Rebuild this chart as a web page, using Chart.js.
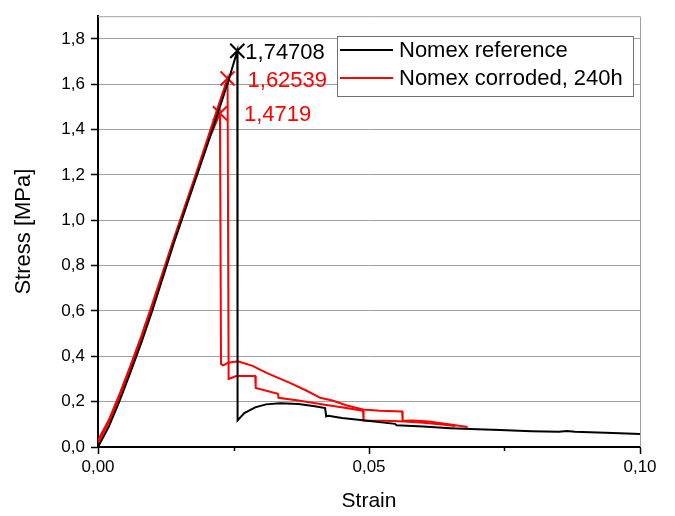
<!DOCTYPE html>
<html>
<head>
<meta charset="utf-8">
<script src="https://cdn.jsdelivr.net/npm/chart.js@4.4.0/dist/chart.umd.min.js"></script>
<style>
  html, body { margin: 0; padding: 0; background: #fff; }
  #wrap { width: 675px; height: 516px; }
</style>
</head>
<body>
<div id="wrap"><canvas id="stress-strain"></canvas></div>
<script>
var FONT = "'Liberation Sans', Arial, sans-serif";

// Nomex reference specimen
var refStrain = [0, 0.002, 0.004, 0.006, 0.008, 0.010, 0.012, 0.014, 0.016, 0.018, 0.020, 0.022, 0.024, 0.0257,
    0.02575, 0.027, 0.029, 0.031, 0.0336, 0.037, 0.040, 0.0419, 0.0421, 0.0425, 0.045, 0.0493, 0.0548, 0.0551,
    0.060, 0.065, 0.070, 0.0742, 0.080, 0.085, 0.0865, 0.088, 0.095, 0.100];
var refStress = [0, 0.09, 0.205, 0.33, 0.46, 0.6, 0.75, 0.9, 1.04, 1.18, 1.32, 1.465, 1.61, 1.74708,
    0.117, 0.15, 0.175, 0.188, 0.193, 0.19, 0.18, 0.172, 0.135, 0.138, 0.128, 0.117, 0.102, 0.096,
    0.09, 0.083, 0.078, 0.075, 0.07, 0.067, 0.07, 0.067, 0.062, 0.057];

// corroded specimen, lower peak
var corrAStrain = [0, 0.002, 0.004, 0.006, 0.008, 0.010, 0.012, 0.014, 0.016, 0.018, 0.020, 0.0225,
    0.0227, 0.0231, 0.0240, 0.0258, 0.0285, 0.0312, 0.0354, 0.0385, 0.0410, 0.0434, 0.0459, 0.0489,
    0.0520, 0.0561, 0.0562, 0.058, 0.061, 0.064, 0.0682];
var corrAStress = [0.02, 0.11, 0.225, 0.35, 0.48, 0.62, 0.765, 0.91, 1.05, 1.19, 1.33, 1.4719,
    0.365, 0.36, 0.372, 0.378, 0.358, 0.326, 0.283, 0.248, 0.217, 0.204, 0.183, 0.165,
    0.16, 0.157, 0.116, 0.117, 0.112, 0.103, 0.088];

// corroded specimen, higher peak
var corrBStrain = [0, 0.002, 0.004, 0.006, 0.008, 0.010, 0.012, 0.014, 0.016, 0.018, 0.020, 0.022, 0.0239,
    0.0241, 0.0255, 0.0290, 0.0291, 0.0332, 0.0333, 0.0373, 0.0415, 0.0452, 0.0489, 0.0490, 0.053,
    0.0565, 0.060, 0.063, 0.0659];
var corrBStress = [0.03, 0.12, 0.235, 0.36, 0.49, 0.63, 0.775, 0.92, 1.06, 1.2, 1.345, 1.49, 1.62539,
    0.30, 0.313, 0.313, 0.26, 0.235, 0.217, 0.204, 0.187, 0.174, 0.16, 0.117, 0.116,
    0.112, 0.107, 0.100, 0.093];

// ultimate stress points (ref, corroded B, corroded A)
var peakStrain = [0.0257, 0.0239, 0.0225];
var peakStress = [1.74708, 1.62539, 1.4719];
var peakColors = ['#000000', '#ff0000', '#ff0000'];
var peakLabelDx = [8, 20, 24];

var seriesNames = ['Nomex reference', 'Nomex corroded, 240h'];
var seriesColors = ['#000000', '#ff0000'];

function toPoints(xs, ys) {
    return xs.map(function (x, i) { return {x: x, y: ys[i]}; });
}

function isMajor(v, step) {
    return Math.abs(v / step - Math.round(v / step)) < 1e-6;
}

function curve(label, xs, ys, color) {
    return {
        label: label,
        data: toPoints(xs, ys),
        showLine: true,
        borderColor: color,
        borderWidth: 2,
        pointRadius: 0,
        tension: 0,
        fill: false
    };
}

// short ticks at the minor steps, plot frame, value labels and boxed legend
var extras = {
    id: 'extras',
    beforeDatasetsDraw: function (chart) {
        var ctx = chart.ctx, a = chart.chartArea;
        ctx.save();
        ctx.strokeStyle = '#a0a0a0';
        ctx.lineWidth = 1;
        ctx.beginPath();
        ctx.moveTo(a.left, a.top + 0.5);
        ctx.lineTo(a.right + 0.5, a.top + 0.5);
        ctx.lineTo(a.right + 0.5, a.bottom);
        ctx.stroke();
        ctx.restore();
    },
    afterDraw: function (chart) {
        var ctx = chart.ctx, a = chart.chartArea;
        var xs = chart.scales.x, ys = chart.scales.y;
        ctx.save();
        ctx.strokeStyle = '#000';
        ctx.lineWidth = 1.5;
        ctx.beginPath();
        ys.ticks.forEach(function (t) {
            if (!isMajor(t.value, 0.2)) {
                var y = Math.round(ys.getPixelForValue(t.value)) + 0.5;
                ctx.moveTo(a.left - 4, y);
                ctx.lineTo(a.left, y);
            }
        });
        xs.ticks.forEach(function (t) {
            if (!isMajor(t.value, 0.05)) {
                var x = Math.round(xs.getPixelForValue(t.value)) + 0.5;
                ctx.moveTo(x, a.bottom);
                ctx.lineTo(x, a.bottom + 4);
            }
        });
        ctx.stroke();

        // peak values
        var meta = chart.getDatasetMeta(3);
        ctx.font = '22px ' + FONT;
        ctx.textBaseline = 'middle';
        ctx.textAlign = 'left';
        meta.data.forEach(function (pt, i) {
            ctx.fillStyle = peakColors[i];
            ctx.fillText(String(peakStress[i]).replace('.', ','), pt.x + peakLabelDx[i], pt.y + 2);
        });

        // legend
        ctx.fillStyle = '#fff';
        ctx.fillRect(337.5, 36.5, 296, 60);
        ctx.strokeStyle = '#707070';
        ctx.lineWidth = 1;
        ctx.strokeRect(337.5, 36.5, 296, 60);
        seriesNames.forEach(function (name, i) {
            var y = 50 + i * 28;
            ctx.strokeStyle = seriesColors[i];
            ctx.lineWidth = 2;
            ctx.beginPath();
            ctx.moveTo(340, y);
            ctx.lineTo(393, y);
            ctx.stroke();
            ctx.fillStyle = '#000';
            ctx.fillText(name, 399, y + 1);
        });
        ctx.restore();
    }
};

var chart = new Chart(document.getElementById('stress-strain'), {
    type: 'scatter',
    data: {
        datasets: [
            curve(seriesNames[0], refStrain, refStress, seriesColors[0]),
            curve(seriesNames[1], corrAStrain, corrAStress, seriesColors[1]),
            curve(seriesNames[1], corrBStrain, corrBStress, seriesColors[1]),
            {
                label: 'peaks',
                data: toPoints(peakStrain, peakStress),
                showLine: false,
                pointStyle: 'crossRot',
                pointRadius: 10,
                pointBorderWidth: 2,
                pointBorderColor: peakColors,
                pointBackgroundColor: peakColors
            }
        ]
    },
    options: {
        responsive: true,
        maintainAspectRatio: false,
        animation: false,
        devicePixelRatio: 1,
        layout: {padding: {top: 10, right: 35, left: 0, bottom: 0}},
        plugins: {
            legend: {display: false},
            tooltip: {enabled: false}
        },
        scales: {
            x: {
                type: 'linear',
                min: 0,
                max: 0.1,
                afterFit: function (scale) { scale.height = 69; },
                border: {color: '#000', width: 2},
                grid: {
                    drawOnChartArea: false,
                    tickLength: 7,
                    tickWidth: 1.5,
                    tickColor: function (c) { return isMajor(c.tick.value, 0.05) ? '#000' : 'rgba(0,0,0,0)'; }
                },
                ticks: {
                    stepSize: 0.025,
                    maxRotation: 0,
                    padding: 3,
                    color: '#000',
                    font: {size: 17, family: FONT},
                    callback: function (v) { return isMajor(v, 0.05) ? v.toFixed(2).replace('.', ',') : ''; }
                },
                title: {
                    display: true,
                    text: 'Strain',
                    color: '#000',
                    font: {size: 21, family: FONT},
                    padding: {top: 0, bottom: 2}
                }
            },
            y: {
                type: 'linear',
                min: 0,
                max: 1.9,
                afterFit: function (scale) { scale.width = 98; },
                border: {color: '#000', width: 2},
                grid: {
                    tickLength: 7,
                    tickWidth: 1.5,
                    color: function (c) { return isMajor(c.tick.value, 0.2) ? '#a0a0a0' : 'rgba(0,0,0,0)'; },
                    tickColor: function (c) { return isMajor(c.tick.value, 0.2) ? '#000' : 'rgba(0,0,0,0)'; }
                },
                ticks: {
                    stepSize: 0.1,
                    padding: 6,
                    color: '#000',
                    font: {size: 17, family: FONT},
                    callback: function (v) { return isMajor(v, 0.2) ? v.toFixed(1).replace('.', ',') : ''; }
                },
                title: {
                    display: true,
                    text: 'Stress [MPa]',
                    color: '#000',
                    font: {size: 22, family: FONT},
                    padding: {top: 11, bottom: 0}
                }
            }
        }
    },
    plugins: [extras]
});
</script>
</body>
</html>
